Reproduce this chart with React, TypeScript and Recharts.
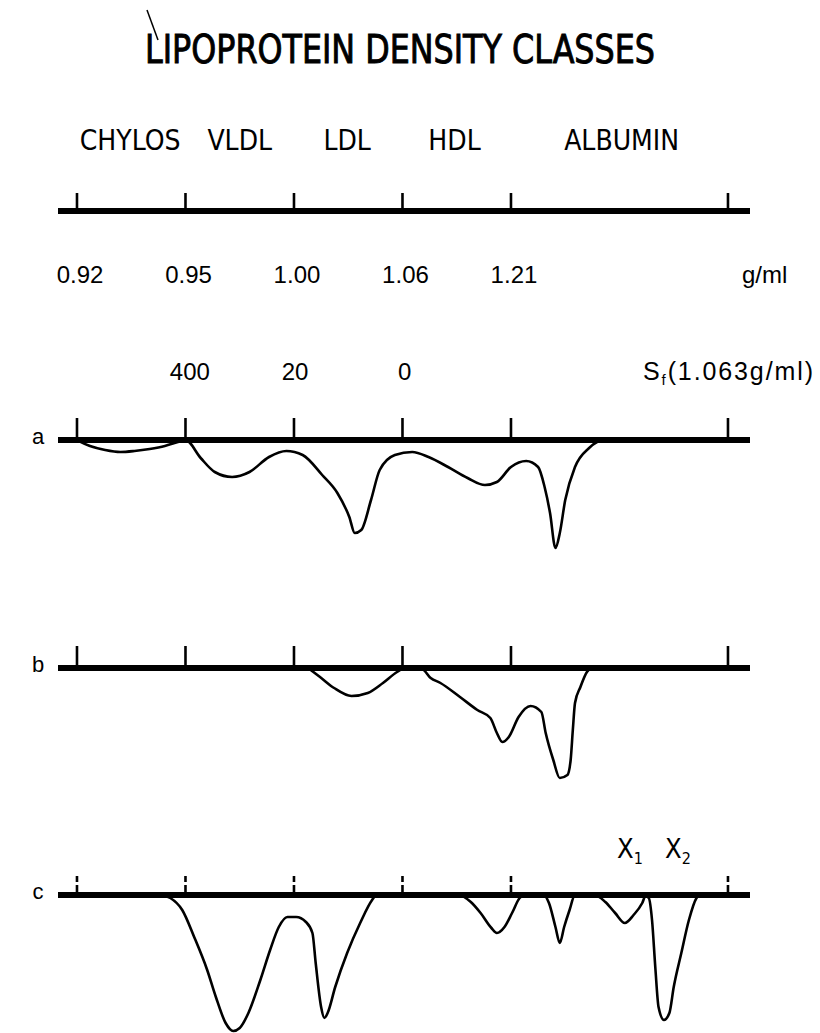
import React from 'react';
import { LineChart, Line, XAxis, YAxis } from 'recharts';

// ---- scale / labels ----
const SCALE_TICKS = [0, 1, 2, 3, 4, 6];
const DENSITY_LABELS = ['0.92', '0.95', '1.00', '1.06', '1.21', ''];
const CLASS_NAMES = ['CHYLOS', 'VLDL', 'LDL', 'HDL', 'ALBUMIN'];
const CLASS_POS = [0.49, 1.5, 2.49, 3.48, 5.02];
const SF_LABELS = ['400', '20', '0'];
const SF_POS = [1.04, 2.01, 3.02];
const PROFILE_NAMES = ['a', 'b', 'c'];
const TITLE = 'LIPOPROTEIN DENSITY CLASSES';

// ---- profile a (position on density scale, depth of trace) ----
const A_X = [0, 0.12, 0.26, 0.4, 0.53, 0.67, 0.81, 0.93, 1.0, 1.14, 1.27, 1.43, 1.59, 1.77, 1.93, 2.08, 2.26, 2.4, 2.51, 2.56, 2.62, 2.71, 2.79, 2.93, 3.09, 3.24, 3.42, 3.6, 3.76, 3.87, 4.0, 4.14, 4.25, 4.31, 4.36, 4.41, 4.45, 4.5, 4.59, 4.72, 4.86, 5.0];
const A_D = [0, -6, -10, -12, -11, -9, -6, -2, 0, -18, -32, -37, -32, -17, -11, -15, -35, -53, -77, -93, -90, -60, -30, -15, -12, -17, -27, -38, -45, -42, -27, -21, -27, -47, -73, -108, -93, -60, -27, -8, 0, 0];

// ---- profile b ----
const B_X = [2.13, 2.24, 2.37, 2.53, 2.68, 2.82, 2.95, 3.02, 3.18, 3.26, 3.35, 3.53, 3.69, 3.81, 3.87, 3.92, 3.98, 4.07, 4.18, 4.28, 4.32, 4.39, 4.45, 4.52, 4.55, 4.57, 4.59, 4.64, 4.7, 4.75, 5.0];
const B_D = [0, -9, -20, -28, -25, -15, -4, 0, -1, -10, -15, -29, -42, -50, -65, -74, -69, -49, -38, -44, -65, -92, -110, -107, -92, -62, -35, -19, -4, 0, 0];

// ---- profile c ----
const C_X = [0.77, 0.86, 0.97, 1.08, 1.2, 1.28, 1.37, 1.44, 1.5, 1.58, 1.69, 1.78, 1.86, 1.94, 2.02, 2.11, 2.17, 2.2, 2.25, 2.28, 2.31, 2.38, 2.49, 2.61, 2.72, 2.76, 3.52, 3.63, 3.72, 3.82, 3.87, 3.94, 4.01, 4.08, 4.13, 4.3, 4.35, 4.41, 4.45, 4.49, 4.54, 4.59, 4.77, 4.87, 4.96, 5.05, 5.13, 5.21, 5.24, 5.27, 5.3, 5.33, 5.36, 5.41, 5.46, 5.5, 5.57, 5.64, 5.71, 5.74];
const C_D = [0, -3, -15, -42, -75, -102, -128, -136, -133, -118, -85, -55, -32, -22, -22, -27, -38, -68, -112, -123, -118, -92, -58, -28, -5, 0, 0, -7, -18, -33, -38, -32, -18, -3, 0, 0, -8, -32, -48, -32, -15, 0, 0, -7, -18, -28, -20, -8, -1, -3, -25, -72, -112, -125, -118, -92, -58, -25, -3, 0];

const PROFILES = [
  { xs: A_X, ds: A_D },
  { xs: B_X, ds: B_D },
  { xs: C_X, ds: C_D },
];

// ---- layout ----
const W = 820;
const H = 1033;
const DOMAIN: [number, number] = [-0.175, 6.203];
const M_LEFT = 58;
const M_RIGHT = 70;
const AXIS_Y = 211;
const CLASS_BASE = 150;
const DENS_BASE = 283;
const SF_BASE = 380;
const PROFILE_BASE = [440, 668, 895];
const AXIS_H = 30;
const DEPTH = 140;
const NARROW = '"Liberation Sans Narrow", "DejaVu Sans Condensed", "Liberation Sans", sans-serif';
const SANS = '"Liberation Sans", Arial, sans-serif';

const TopTick = (props: any) => {
  const { x, payload } = props;
  const v = payload.value;
  const si = SCALE_TICKS.indexOf(v);
  if (si >= 0) {
    return (
      <g>
        <line x1={x} x2={x} y1={AXIS_Y} y2={AXIS_Y - 18} stroke="#000" strokeWidth={2.6} />
        <text x={x + 3} y={DENS_BASE} textAnchor="middle" fontFamily={SANS} fontSize={24} fill="#000">
          {DENSITY_LABELS[si]}
        </text>
      </g>
    );
  }
  const ci = CLASS_POS.indexOf(v);
  if (ci >= 0) {
    return (
      <text x={x} y={CLASS_BASE} textAnchor="middle" fontFamily={NARROW} fontSize={28} fill="#000">
        {CLASS_NAMES[ci]}
      </text>
    );
  }
  const fi = SF_POS.indexOf(v);
  if (fi >= 0) {
    return (
      <text x={x} y={SF_BASE} textAnchor="middle" fontFamily={SANS} fontSize={24} fill="#000">
        {SF_LABELS[fi]}
      </text>
    );
  }
  return <g />;
};

const EmptyTick = () => <g />;

const TopScale = () => (
  <LineChart
    width={W}
    height={410}
    data={[{ u: 0, d: 0 }, { u: 6, d: 0 }]}
    margin={{ top: AXIS_Y - AXIS_H, left: M_LEFT, right: M_RIGHT, bottom: 0 }}
  >
    <XAxis
      dataKey="u"
      type="number"
      domain={DOMAIN}
      allowDataOverflow
      orientation="top"
      height={AXIS_H}
      ticks={[...SCALE_TICKS, ...CLASS_POS, ...SF_POS]}
      interval={0}
      tickLine={false}
      tick={<TopTick />}
      axisLine={{ stroke: '#000', strokeWidth: 6 }}
    />
    <YAxis hide domain={[0, 1]} />
  </LineChart>
);

const Profile = ({ idx }: { idx: number }) => {
  const p = PROFILES[idx];
  const data = p.xs.map((u, i) => ({ u, d: p.ds[i] }));
  const dashed = idx === 2;
  return (
    <div style={{ position: 'absolute', left: 0, top: PROFILE_BASE[idx] - AXIS_H }}>
      <LineChart
        width={W}
        height={AXIS_H + DEPTH + 6}
        data={data}
        margin={{ top: 0, left: M_LEFT, right: M_RIGHT, bottom: 6 }}
      >
        <XAxis
          dataKey="u"
          type="number"
          domain={DOMAIN}
          allowDataOverflow
          orientation="top"
          height={AXIS_H}
          ticks={SCALE_TICKS}
          interval={0}
          tickSize={dashed ? 19 : 22}
          tickMargin={0}
          tick={<EmptyTick />}
          tickLine={{ stroke: '#000', strokeWidth: 2.6, strokeDasharray: dashed ? '6 3 10' : undefined }}
          axisLine={{ stroke: '#000', strokeWidth: 6 }}
        />
        <YAxis hide domain={[-DEPTH, 0]} allowDataOverflow />
        <Line
          type="monotone"
          dataKey="d"
          stroke="#000"
          strokeWidth={2.6}
          dot={false}
          isAnimationActive={false}
        />
      </LineChart>
    </div>
  );
};

export default function App() {
  return (
    <div style={{ position: 'absolute', left: 0, top: 0, width: W, height: H, background: '#fff', overflow: 'hidden' }}>
      <div style={{ position: 'absolute', left: 0, top: 0 }}>
        <TopScale />
      </div>
      {[0, 1, 2].map((i) => (
        <Profile key={i} idx={i} />
      ))}
      <svg width={W} height={H} style={{ position: 'absolute', left: 0, top: 0, pointerEvents: 'none' }}>
        <line x1={147} y1={10} x2={158} y2={40} stroke="#000" strokeWidth={1.5} />
        <text
          x={145}
          y={63}
          textLength={510}
          lengthAdjust="spacingAndGlyphs"
          fontFamily={NARROW}
          fontSize={39}
          fill="#000"
          stroke="#000"
          strokeWidth={0.9}
        >
          {TITLE}
        </text>
        <text x={742} y={DENS_BASE} fontFamily={SANS} fontSize={24} fill="#000">g/ml</text>
        <text x={643} y={SF_BASE} fontFamily={SANS} fontSize={25} fill="#000" textLength={170} lengthAdjust="spacing">
          S<tspan fontSize={15} dy={5}>f</tspan>
          <tspan dy={-5}>(1.063g/ml)</tspan>
        </text>
        {PROFILE_NAMES.map((n, i) => (
          <text key={n} x={38} y={PROFILE_BASE[i] + 4} textAnchor="middle" fontFamily={SANS} fontSize={22} fill="#000">
            {n}
          </text>
        ))}
        <text x={630} y={858} textAnchor="middle" fontFamily={NARROW} fontSize={27} fill="#000">
          X<tspan fontSize={16} dy={6}>1</tspan>
        </text>
        <text x={678} y={858} textAnchor="middle" fontFamily={NARROW} fontSize={27} fill="#000">
          X<tspan fontSize={16} dy={6}>2</tspan>
        </text>
      </svg>
    </div>
  );
}
